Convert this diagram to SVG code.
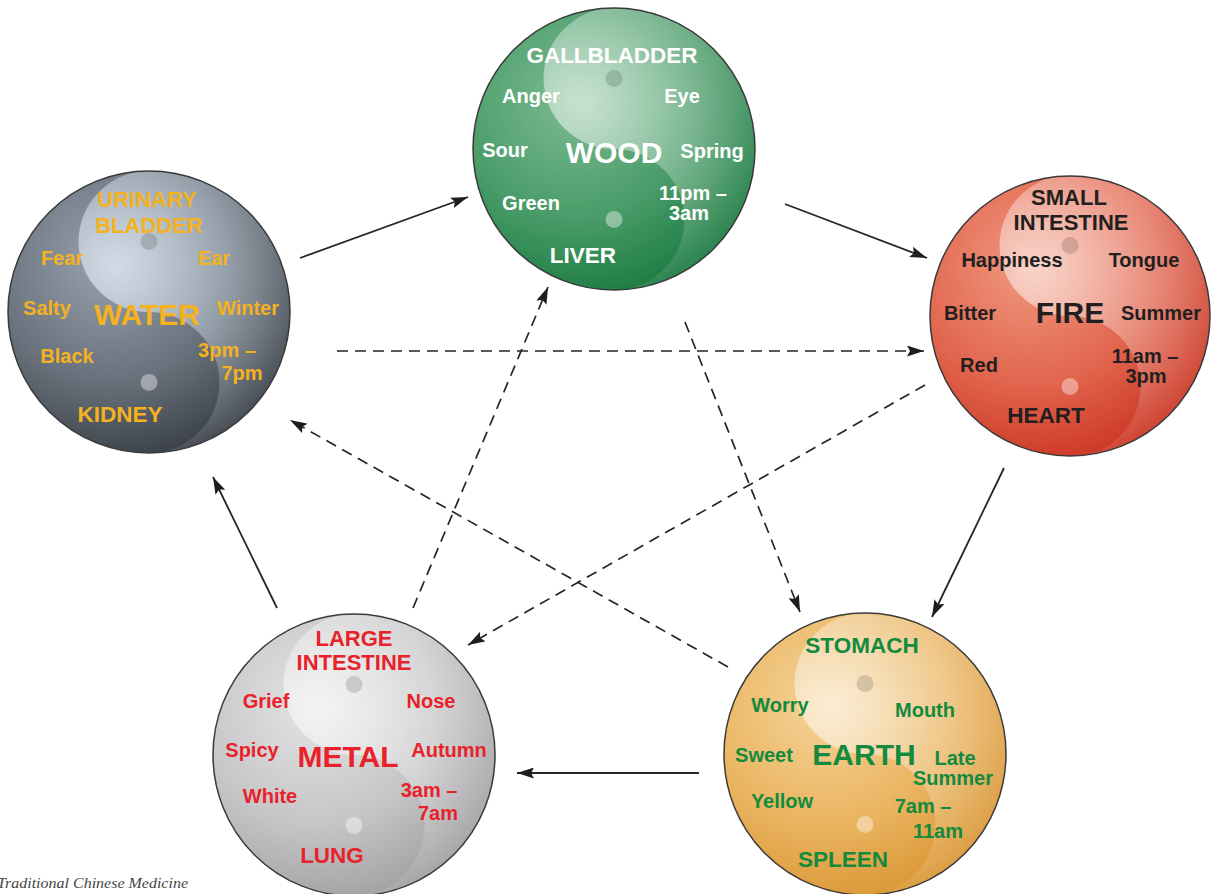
<svg xmlns="http://www.w3.org/2000/svg" width="1214" height="894" viewBox="0 0 1214 894">
<style>
  .t{font-family:"Liberation Sans",Arial,sans-serif;font-weight:bold;text-anchor:middle}
  .s{font-size:20px}
  .o{font-size:22.5px}
  .o2{font-size:22px}
  .e{font-size:30px}
  .rim{stroke:#3a3a3a;stroke-width:1.5}
  .dk{fill:#000;fill-opacity:0.14}
  .lt{fill:#fff;fill-opacity:0.4}
  .solid{fill:none;stroke:#262626;stroke-width:1.8}
  .dash{fill:none;stroke:#262626;stroke-width:1.7;stroke-dasharray:11 7}
  .wood{fill:#ffffff}.water{fill:#f4b220}.fire{fill:#231f20}.metal{fill:#e8212a}.earth{fill:#138a3e}
</style>
<defs>
  <radialGradient id="gWood" gradientUnits="userSpaceOnUse" cx="-40" cy="-50" r="215">
    <stop offset="0" stop-color="#7dbb92"/><stop offset="0.55" stop-color="#4a9c69"/><stop offset="1" stop-color="#16773d"/>
  </radialGradient>
  <radialGradient id="gWater" gradientUnits="userSpaceOnUse" cx="-40" cy="-50" r="215">
    <stop offset="0" stop-color="#9aa4ae"/><stop offset="0.55" stop-color="#69727c"/><stop offset="1" stop-color="#33383e"/>
  </radialGradient>
  <radialGradient id="gFire" gradientUnits="userSpaceOnUse" cx="-40" cy="-50" r="215">
    <stop offset="0" stop-color="#f09a80"/><stop offset="0.55" stop-color="#e2654e"/><stop offset="1" stop-color="#c8301e"/>
  </radialGradient>
  <radialGradient id="gMetal" gradientUnits="userSpaceOnUse" cx="-40" cy="-50" r="215">
    <stop offset="0" stop-color="#e4e4e5"/><stop offset="0.55" stop-color="#c6c6c8"/><stop offset="1" stop-color="#9c9c9e"/>
  </radialGradient>
  <radialGradient id="gEarth" gradientUnits="userSpaceOnUse" cx="-40" cy="-50" r="215">
    <stop offset="0" stop-color="#f5d49a"/><stop offset="0.55" stop-color="#eab562"/><stop offset="1" stop-color="#d8932f"/>
  </radialGradient>
  <radialGradient id="gLight" gradientUnits="userSpaceOnUse" cx="-30" cy="-45" r="200">
    <stop offset="0" stop-color="#fff" stop-opacity="0.58"/><stop offset="0.5" stop-color="#fff" stop-opacity="0.3"/><stop offset="1" stop-color="#fff" stop-opacity="0.06"/>
  </radialGradient>
  <radialGradient id="gLightB" gradientUnits="userSpaceOnUse" cx="-30" cy="-45" r="200">
    <stop offset="0" stop-color="#e4eef8" stop-opacity="0.75"/><stop offset="0.5" stop-color="#dbe6f0" stop-opacity="0.42"/><stop offset="1" stop-color="#dbe6f0" stop-opacity="0.08"/>
  </radialGradient>
  <path id="yy" d="M0,-141 A141,141 0 0 1 0,141 A70.5,70.5 0 0 0 0,0 A70.5,70.5 0 0 1 0,-141 Z"/>
  <marker id="ah" markerUnits="userSpaceOnUse" markerWidth="18" markerHeight="11" refX="17" refY="5.5" orient="auto">
    <path d="M0,0 L17,5.5 L0,11 L3,5.5 Z" fill="#1e1e1e"/>
  </marker>
</defs>
<rect width="1214" height="894" fill="#fff"/>

<g id="connectors">
  <line class="solid" x1="300" y1="258" x2="468" y2="197" marker-end="url(#ah)"/>
  <line class="solid" x1="785" y1="204" x2="927" y2="258" marker-end="url(#ah)"/>
  <line class="solid" x1="1004" y1="468" x2="932" y2="617" marker-end="url(#ah)"/>
  <line class="solid" x1="699" y1="773" x2="517" y2="773" marker-end="url(#ah)"/>
  <line class="solid" x1="277" y1="608" x2="213" y2="477" marker-end="url(#ah)"/>
  <line class="dash" x1="337" y1="351" x2="924" y2="351" marker-end="url(#ah)"/>
  <line class="dash" x1="925" y1="385" x2="468" y2="645" marker-end="url(#ah)"/>
  <line class="dash" x1="413" y1="608" x2="548" y2="287" marker-end="url(#ah)"/>
  <line class="dash" x1="685" y1="322" x2="800" y2="612" marker-end="url(#ah)"/>
  <line class="dash" x1="728" y1="667" x2="290" y2="420" marker-end="url(#ah)"/>
</g>

<g id="wood">
  <g transform="translate(614,149)">
    <circle r="141" fill="url(#gWood)"/>
    <use href="#yy" fill="url(#gLight)"/>
    <circle cy="-70.5" r="8.5" class="dk"/>
    <circle cy="70.5" r="8.5" class="lt"/>
    <circle r="141" fill="none" class="rim"/>
  </g>
  <text class="t o wood" x="612" y="63">GALLBLADDER</text>
  <text class="t s wood" x="531" y="103">Anger</text>
  <text class="t s wood" x="682" y="103">Eye</text>
  <text class="t s wood" x="505" y="157">Sour</text>
  <text class="t e wood" x="614" y="163">WOOD</text>
  <text class="t s wood" x="712" y="158">Spring</text>
  <text class="t s wood" x="531" y="210">Green</text>
  <text class="t s wood" x="693" y="200">11pm –</text>
  <text class="t s wood" x="689" y="220">3am</text>
  <text class="t o wood" x="583" y="263">LIVER</text>
</g>

<g id="water">
  <g transform="translate(149,312)">
    <circle r="141" fill="url(#gWater)"/>
    <use href="#yy" fill="url(#gLightB)"/>
    <circle cy="-70.5" r="8.5" class="dk"/>
    <circle cy="70.5" r="8.5" class="lt"/>
    <circle r="141" fill="none" class="rim"/>
  </g>
  <text class="t o2 water" x="147" y="207">URINARY</text>
  <text class="t o2 water" x="149" y="233">BLADDER</text>
  <text class="t s water" x="62" y="265">Fear</text>
  <text class="t s water" x="214" y="265">Ear</text>
  <text class="t s water" x="47" y="315">Salty</text>
  <text class="t e water" x="147" y="325">WATER</text>
  <text class="t s water" x="248" y="315">Winter</text>
  <text class="t s water" x="67" y="363">Black</text>
  <text class="t s water" x="227" y="357">3pm –</text>
  <text class="t s water" x="242" y="380">7pm</text>
  <text class="t o water" x="120" y="422">KIDNEY</text>
</g>

<g id="fire">
  <g transform="translate(1070,316)">
    <circle r="140" fill="url(#gFire)"/>
    <use href="#yy" fill="url(#gLight)"/>
    <circle cy="-70.5" r="8.5" class="dk"/>
    <circle cy="70.5" r="8.5" class="lt"/>
    <circle r="140" fill="none" class="rim"/>
  </g>
  <text class="t o2 fire" x="1069" y="205">SMALL</text>
  <text class="t o2 fire" x="1071" y="230">INTESTINE</text>
  <text class="t s fire" x="1012" y="267">Happiness</text>
  <text class="t s fire" x="1144" y="267">Tongue</text>
  <text class="t s fire" x="970" y="320">Bitter</text>
  <text class="t e fire" x="1070" y="323">FIRE</text>
  <text class="t s fire" x="1161" y="320">Summer</text>
  <text class="t s fire" x="979" y="372">Red</text>
  <text class="t s fire" x="1145" y="363">11am –</text>
  <text class="t s fire" x="1146" y="383">3pm</text>
  <text class="t o fire" x="1046" y="423">HEART</text>
</g>

<g id="metal">
  <g transform="translate(354,755)">
    <circle r="141" fill="url(#gMetal)"/>
    <use href="#yy" fill="url(#gLight)"/>
    <circle cy="-70.5" r="8.5" class="dk"/>
    <circle cy="70.5" r="8.5" class="lt"/>
    <circle r="141" fill="none" class="rim"/>
  </g>
  <text class="t o2 metal" x="354" y="646">LARGE</text>
  <text class="t o2 metal" x="354" y="670">INTESTINE</text>
  <text class="t s metal" x="266" y="708">Grief</text>
  <text class="t s metal" x="431" y="708">Nose</text>
  <text class="t s metal" x="252" y="757">Spicy</text>
  <text class="t e metal" x="348" y="767">METAL</text>
  <text class="t s metal" x="449" y="757">Autumn</text>
  <text class="t s metal" x="270" y="803">White</text>
  <text class="t s metal" x="429" y="797">3am –</text>
  <text class="t s metal" x="438" y="820">7am</text>
  <text class="t o metal" x="332" y="863">LUNG</text>
</g>

<g id="earth">
  <g transform="translate(865,754)">
    <circle r="141" fill="url(#gEarth)"/>
    <use href="#yy" fill="url(#gLight)"/>
    <circle cy="-70.5" r="8.5" class="dk"/>
    <circle cy="70.5" r="8.5" class="lt"/>
    <circle r="141" fill="none" class="rim"/>
  </g>
  <text class="t o earth" x="862" y="653">STOMACH</text>
  <text class="t s earth" x="780" y="712">Worry</text>
  <text class="t s earth" x="925" y="717">Mouth</text>
  <text class="t s earth" x="764" y="762">Sweet</text>
  <text class="t e earth" x="864" y="765">EARTH</text>
  <text class="t s earth" x="955" y="765">Late</text>
  <text class="t s earth" x="953" y="785">Summer</text>
  <text class="t s earth" x="782" y="808">Yellow</text>
  <text class="t s earth" x="923" y="813">7am –</text>
  <text class="t s earth" x="938" y="838">11am</text>
  <text class="t o earth" x="843" y="867">SPLEEN</text>
</g>

<text x="-3" y="888" font-family="'Liberation Serif','Times New Roman',serif" font-style="italic" font-size="14" fill="#444" textLength="191" lengthAdjust="spacingAndGlyphs">Traditional Chinese Medicine</text>
</svg>
